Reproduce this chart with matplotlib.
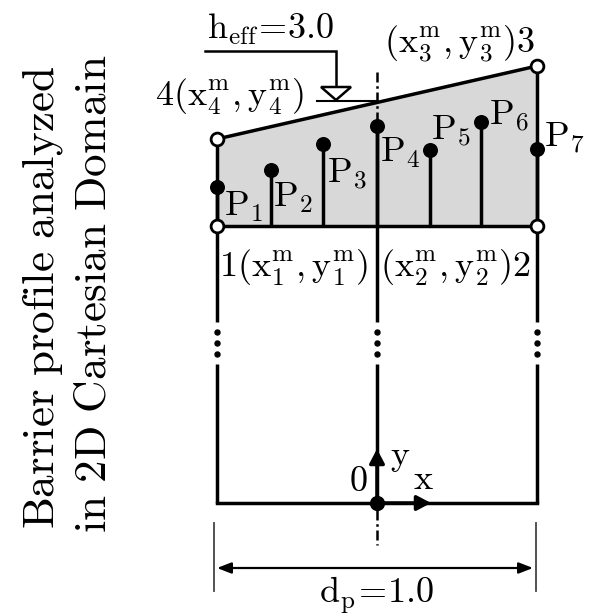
import matplotlib
matplotlib.use("Agg")
import matplotlib.pyplot as plt
from matplotlib.patches import Polygon

plt.rcParams['mathtext.fontset'] = 'cm'
plt.rcParams['font.family'] = ['serif']

# Scheme geometry, in reference pixels
x_left, x_mid, x_right = 217, 377, 537
y_base, y_bottom = 226, 503
y_top_left, y_top_right = 139, 66
probe_x = [217, 271, 323, 377, 430, 481, 537]
probe_y = [187, 170, 144, 126, 150, 122, 149]
probe_names = ['P_1', 'P_2', 'P_3', 'P_4', 'P_5', 'P_6', 'P_7']
probe_lx = [224, 273, 327, 380, 431, 489, 544]
probe_ly = [207, 198, 174, 153, 131, 116, 138]
vertex_x = [217, 537, 537, 217]
vertex_y = [226, 226, 66, 139]
dots_y = [332, 343, 354]
title_lines = ['Barrier profile analyzed', 'in 2D Cartesian Domain']

fig = plt.figure(figsize=(6.01, 6.15), dpi=100)
ax = fig.add_axes([0, 0, 1, 1])
ax.set_xlim(0, 601)
ax.set_ylim(615, 0)
ax.axis('off')

ax.add_patch(Polygon(list(zip(vertex_x, vertex_y)), closed=True, fc='#d8d8d8', ec='none', zorder=1))

lw = 2.5
k = dict(color='black', lw=lw, solid_capstyle='butt', zorder=3)
# Top and base of the barrier
ax.plot([x_left, x_right], [y_top_left, y_top_right], **k)
ax.plot([x_left, x_right], [y_base, y_base], **k)
# Verticals, broken by the dots
for x in (x_left, x_mid, x_right):
    top = y_top_left if x == x_left else (y_top_right if x == x_right else probe_y[3])
    ax.plot([x, x], [top, 322], **k)
    ax.plot([x, x], [364, y_bottom], **k)
    ax.plot([x] * len(dots_y), dots_y, ls='none', marker='o', ms=3.6, color='black', zorder=3)
ax.plot([x_left, x_right], [y_bottom, y_bottom], color='black', lw=lw, solid_capstyle='projecting', zorder=3)

# Centre line extensions
ax.plot([x_mid, x_mid], [72, 126], color='black', lw=1.8, ls=(0, (4, 1.5, 1, 1.5)), zorder=2)
ax.plot([x_mid, x_mid], [510, 545], color='black', lw=1.8, ls=(0, (4, 1.5, 1, 1.5)), zorder=2)

# Probes
for px, py in zip(probe_x, probe_y):
    ax.plot([px, px], [py, y_base], **k)
ax.plot(probe_x, probe_y, ls='none', marker='o', ms=10.8, color='black', mew=0, zorder=5)
for lx, ly, name in zip(probe_lx, probe_ly, probe_names):
    ax.text(lx, ly, f'$\\mathrm{{{name}}}$', fontsize=26, ha='left', va='center', zorder=6)

# Vertices
ax.plot(vertex_x, vertex_y, ls='none', marker='o', ms=9.2, mfc='white', mec='black', mew=2.0, zorder=6)

# Water level
ax.plot([205, 336, 336], [51, 51, 88], color='black', lw=1.8, solid_joinstyle='miter', zorder=3)
ax.add_patch(Polygon([(321, 87), (351, 87), (336, 100)], closed=True, fc='white', ec='black', lw=1.8, zorder=3))
ax.plot([317, 377], [101, 101], color='black', lw=1.5, zorder=3)

# Vertex labels
fs = 26
tx = dict(fontsize=fs, va='center', zorder=6)
ax.text(207, 29, r'$\mathrm{h_{eff}\!=\!3.0}$', ha='left', **tx)
ax.text(384, 44, r'$\mathrm{(x_3^m,y_3^m)3}$', ha='left', **tx)
ax.text(155, 97, r'$\mathrm{4(x_4^m,y_4^m)}$', ha='left', **tx)
ax.text(219, 268, r'$\mathrm{1(x_1^m,y_1^m)}$', ha='left', **tx)
ax.text(380, 268, r'$\mathrm{(x_2^m,y_2^m)2}$', ha='left', **tx)

# Axes arrows
ax.annotate('', xy=(377, 449), xytext=(377, 503),
            arrowprops=dict(arrowstyle='-|>,head_width=0.45,head_length=0.85', color='black', lw=2.5, shrinkA=0, shrinkB=0), zorder=6)
ax.annotate('', xy=(431, 503), xytext=(377, 503),
            arrowprops=dict(arrowstyle='-|>,head_width=0.45,head_length=0.85', color='black', lw=2.5, shrinkA=0, shrinkB=0), zorder=6)
ax.plot([x_mid], [y_bottom], marker='o', ms=11, color='black', mew=0, zorder=7)
ax.text(358, 481, r'$\mathrm{0}$', fontsize=fs, ha='center', va='center')
ax.text(400, 457, r'$\mathrm{y}$', fontsize=fs, ha='center', va='center')
ax.text(423, 479, r'$\mathrm{x}$', fontsize=fs, ha='center', va='center')

# Dimension line
ax.plot([214, 214], [523, 591], color='#444444', lw=1.3)
ax.plot([536, 536], [523, 591], color='#444444', lw=1.3)
ax.annotate('', xy=(217, 568), xytext=(533, 568),
            arrowprops=dict(arrowstyle='<|-|>,head_width=0.33,head_length=0.85', color='black', lw=1.6, shrinkA=0, shrinkB=0))
ax.text(376, 595, r'$\mathrm{d_p\!=\!1.0}$', fontsize=fs, ha='center', va='center')

# Rotated title
ax.text(43, 298, f'$\\mathrm{{{title_lines[0].replace(" ", chr(92) + " ")}}}$', fontsize=32.5, rotation=90, ha='center', va='center')
ax.text(93, 294, f'$\\mathrm{{{title_lines[1].replace(" ", chr(92) + " ")}}}$', fontsize=32.5, rotation=90, ha='center', va='center')

fig.savefig('out.png', dpi=100)
